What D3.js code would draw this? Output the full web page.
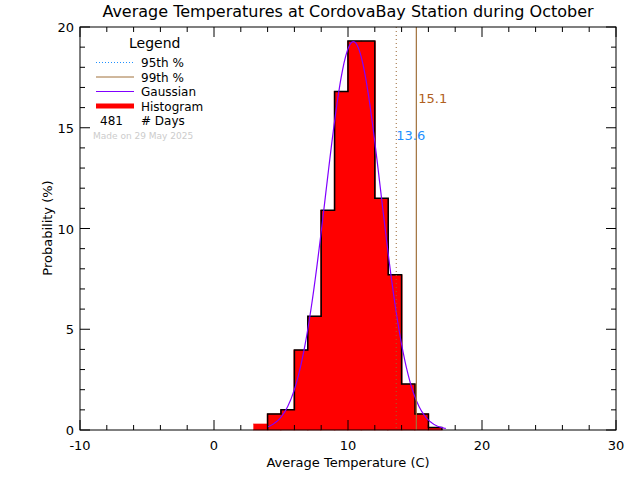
<!DOCTYPE html><html><head><script src="https://cdn.jsdelivr.net/npm/d3@7"></script>
<style>body{margin:0;background:#fff}text{font-family:"DejaVu Sans",sans-serif}</style></head><body>
<svg id="c" width="640" height="480"></svg>
<script>
const binStarts=[3,4,5,6,7,8,9,10,11,12,13,14,15,16];
const binValues=[0.3,0.8,1.0,3.97,5.65,10.9,16.8,19.3,19.3,11.5,7.7,2.28,0.8,0.13];
const xTicks=[-10,0,10,20,30];
const yTicks=[0,5,10,15,20];
const gaussMean=10.4, gaussSigma=2.07, gaussRange=[4,17.3];
const p95=13.6, p99=15.1, nDays=481;
const svg=d3.select("#c");
const L=80,R=616,T=27,B=430;
const x=d3.scaleLinear().domain([-10,30]).range([L,R]);
const y=d3.scaleLinear().domain([0,20]).range([B,T]);
svg.append("text").attr("x",348).attr("y",17).attr("text-anchor","middle").attr("font-size",16).text("Average Temperatures at CordovaBay Station during October");
const g=svg.append("g");
binStarts.forEach((s,i)=>{g.append("rect").attr("x",x(s)-0.5).attr("y",y(binValues[i])).attr("width",x(s+1)-x(s)+1).attr("height",B-y(binValues[i])).attr("fill","red").attr("stroke","red").attr("stroke-width",0.5);});
let pts=[];binStarts.forEach((s,i)=>{pts.push([s,binValues[i]],[s+1,binValues[i]]);});
const ln=d3.line().x(d=>x(d[0])).y(d=>y(d[1]));
g.append("path").attr("d",ln([[4,0]].concat(pts.slice(2)).concat([[17,0]]))).attr("fill","none").attr("stroke","#000").attr("stroke-width",1.5);
const gp=d3.range(gaussRange[0],gaussRange[1]+0.001,0.05).map(t=>[t,100/(gaussSigma*Math.sqrt(2*Math.PI))*Math.exp(-0.5*((t-gaussMean)/gaussSigma)**2)]);
g.append("path").attr("d",ln(gp)).attr("fill","none").attr("stroke","#8000ff").attr("stroke-width",1.2);
svg.append("line").attr("x1",x(p95)).attr("x2",x(p95)).attr("y1",T).attr("y2",B).attr("stroke","#996633").attr("stroke-dasharray","1,3");
svg.append("line").attr("x1",x(p99)).attr("x2",x(p99)).attr("y1",T).attr("y2",B).attr("stroke","#a0703a").attr("stroke-width",1.2);
svg.append("text").attr("x",x(p95)).attr("y",140).attr("font-size",13).attr("fill","#1e90ff").text(p95.toFixed(1));
svg.append("text").attr("x",x(p99)+2).attr("y",103).attr("font-size",13).attr("fill","#b06020").text(p99.toFixed(1));
svg.append("rect").attr("x",L).attr("y",T).attr("width",R-L).attr("height",B-T).attr("fill","none").attr("stroke","#000");
const ax=svg.append("g").attr("stroke","#000");
d3.range(-10,30.1,2).forEach(v=>{const l=xTicks.includes(v)?10:5;ax.append("line").attr("x1",x(v)).attr("x2",x(v)).attr("y1",B).attr("y2",B-l);ax.append("line").attr("x1",x(v)).attr("x2",x(v)).attr("y1",T).attr("y2",T+l);});
d3.range(0,20.1,1).forEach(v=>{const l=yTicks.includes(v)?10:5;ax.append("line").attr("x1",L).attr("x2",L+l).attr("y1",y(v)).attr("y2",y(v));ax.append("line").attr("x1",R).attr("x2",R-l).attr("y1",y(v)).attr("y2",y(v));});
xTicks.forEach(v=>svg.append("text").attr("x",x(v)).attr("y",B+20).attr("text-anchor","middle").attr("font-size",13).text(v));
yTicks.forEach(v=>svg.append("text").attr("x",L-6).attr("y",y(v)+5).attr("text-anchor","end").attr("font-size",13).text(v));
svg.append("text").attr("x",348).attr("y",467).attr("text-anchor","middle").attr("font-size",13).text("Average Temperature (C)");
svg.append("text").attr("transform","translate(52,228) rotate(-90)").attr("text-anchor","middle").attr("font-size",13).text("Probability (%)");
svg.append("text").attr("x",129).attr("y",48).attr("font-size",14).text("Legend");
const lg=[["95th %","#1e90ff","1,2",1],["99th %","#a0703a",null,1],["Gaussian","#8000ff",null,1],["Histogram","red",null,5]];
lg.forEach((d,i)=>{const yy=62.5+i*14.5;svg.append("line").attr("x1",96).attr("x2",134).attr("y1",yy).attr("y2",yy).attr("stroke",d[1]).attr("stroke-width",d[3]).attr("stroke-dasharray",d[2]);svg.append("text").attr("x",141).attr("y",yy+4.5).attr("font-size",12).text(d[0]);});
svg.append("text").attr("x",100).attr("y",125).attr("font-size",12).text(nDays);
svg.append("text").attr("x",141).attr("y",125).attr("font-size",12).text("# Days");
svg.append("text").attr("x",93).attr("y",139).attr("font-size",9).attr("fill","#ccc").text("Made on 29 May 2025");
</script></body></html>
